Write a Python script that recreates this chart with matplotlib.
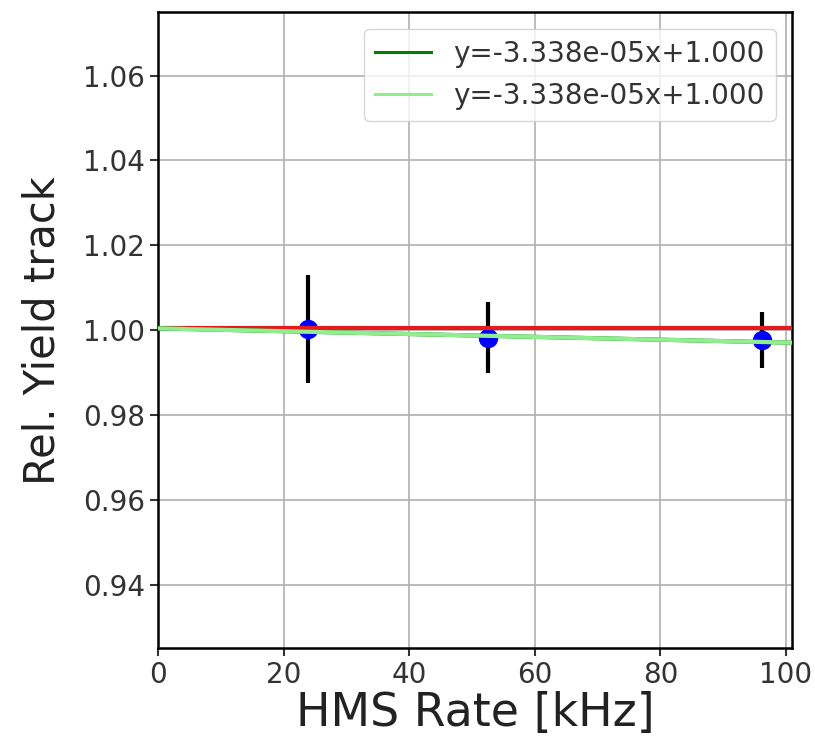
import matplotlib
matplotlib.use('Agg')
import matplotlib.pyplot as plt
import numpy as np

# measured points
rate_khz = np.array([23.9, 52.6, 96.2])
rel_yield = np.array([1.0002, 0.9982, 0.9976])
yield_err = np.array([0.0128, 0.0084, 0.0066])

# fit results
slope = -3.338e-05
intercept = 1.0004
ref_level = 1.0004
x_max = 101.0


def run():
    fig = plt.figure(figsize=(8.15, 7.51), dpi=100)
    ax = fig.add_axes([0.194, 0.137, 0.778, 0.847])

    ax.errorbar(rate_khz, rel_yield, yerr=yield_err, fmt='o', color='blue',
                ecolor='black', elinewidth=3, markersize=13, zorder=2)

    xs = np.array([0.0, x_max])
    ax.plot(xs, np.full_like(xs, ref_level), color='#e41a1c', lw=3, zorder=3)
    label = 'y={:.3e}x+{:.3f}'.format(slope, intercept)
    ax.plot(xs, slope * xs + intercept, color='green', lw=3, label=label,
            zorder=3)
    ax.plot(xs, slope * xs + intercept, color='lightgreen', lw=3,
            label=label, zorder=4)

    ax.set_xlim(0, x_max)
    ax.set_ylim(0.925, 1.075)
    ax.set_yticks([0.94, 0.96, 0.98, 1.00, 1.02, 1.04, 1.06])
    ax.set_xticks([0, 20, 40, 60, 80, 100])
    ax.grid(True, color='#b0b0b0', lw=1.2)
    ax.tick_params(labelsize=20, length=6, width=1.5, colors='#333333',
                   labelcolor='#333333')
    for s in ax.spines.values():
        s.set_linewidth(1.8)
        s.set_color('black')

    ax.set_xlabel('HMS Rate [kHz]', fontsize=33, color='#222222', labelpad=1)
    ax.set_ylabel('Rel. Yield track', fontsize=30, color='#222222',
                  labelpad=14)
    leg = ax.legend(loc='upper right', fontsize=20, borderaxespad=0.6)
    for t in leg.get_texts():
        t.set_color('#333333')
    for h in leg.get_lines():
        h.set_linewidth(2.2)

    fig.savefig('out.png', dpi=100)


if __name__ == '__main__':
    run()
